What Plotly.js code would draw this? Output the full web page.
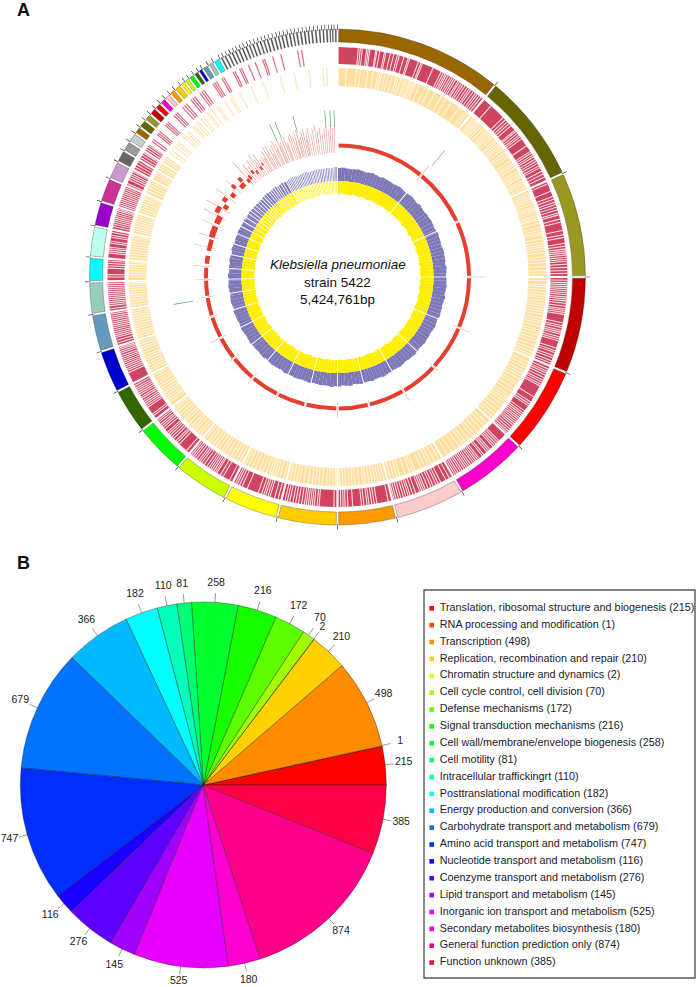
<!DOCTYPE html>
<html><head><meta charset="utf-8">
<script src="https://cdn.plot.ly/plotly-3.0.1.min.js"></script>
<style>html,body{margin:0;padding:0;background:#fff}</style></head>
<body><div id="chart" style="width:697px;height:987px"></div>
<script>
// ---------- Panel A data (degrees clockwise from 12 o'clock) ----------
const contigEnds=[39.4,65.3,90,112.7,133,149.9,166.2,180,194.1,207,220,231.9,242.5,252.5,261.3,268.9,274.6,281.9,287.7,293.4,297.7,300.6,303.1,305.4,
307.2,309.2,311,312.8,314.4,316,317.5,319,320.7,322,323.2,324.6,325.9,327,328.6,330,331.7,
332.6,333.5,334.4,335.3,336.1,337,337.9,338.8,339.6,340.5,341.4,342.3,343.1,344,344.9,345.8,346.6,347.5,348.4,349.3,350.1,351,351.9,352.8,353.6,354.5,355.4,356.3,357.1,358,358.6,359.2,360];
const contigColors=["#996600","#666600","#999922","#c00000","#ff0000","#ff00cc","#ffcccc","#ff9900","#ffcc00","#ffff00","#ccff00","#00ff00","#336600","#0000cc","#6699bb","#99ccbb","#00ffff","#bbffee","#9900cc","#cc3399","#cc99cc","#666666","#999999","#cccccc"];
const thinContigColor="#555555";
const cdsForwardGaps=[5.2,5.7,6.2,7.3,7.7,8.1,9.6,9.9,10.6,11.8,12.2,13.3,14.2,15.1,15.6,16.8,17.9,18.3,20.6,21.3,21.7,24.6,26.8,27.4,27.9,28.3,28.8,29.4,29.9,30.4,30.9,31.6,32.0,32.6,33.1,33.7,34.4,35.0,35.5,36.2,36.9,37.4,38.0,38.6,
41.9,46.1,46.9,47.6,48.2,48.9,50.4,50.8,51.4,52.0,52.5,53.1,55.2,56.9,57.4,58.0,58.5,59.2,59.8,60.4,61.1,61.6,62.6,63.4,64.2,
66.1,68.1,69.5,70.2,71.0,71.6,72.3,73.0,73.8,74.3,75.4,76.2,78.3,79.4,80.1,81.6,82.3,83.0,83.5,84.0,84.5,85.1,85.6,86.1,86.8,87.6,88.4,89.1,
90.8,91.4,91.9,92.4,92.9,93.4,93.9,94.4,95.0,95.5,96.0,96.6,97.3,98.0,98.4,98.9,99.4,101.5,102.2,102.7,103.4,103.9,104.4,105.1,105.6,106.1,108.0,108.7,109.2,110.0,110.6,111.4,112.0,
113.6,114.2,114.7,115.3,116,116.7,117.2,117.8,118.3,121.4,122.9,123.5,124.0,125.6,126.2,126.7,127.2,127.7,128.2,128.7,129.2,129.7,130.2,130.8,131.4,132.0,132.5,
135.4,135.9,136.5,137.0,137.5,138.5,139.0,139.5,140.5,141.0,142.0,142.5,143.0,143.5,144.0,144.6,145.1,145.6,146.1,146.6,147.2,147.7,148.3,148.8,149.3,
150.9,151.9,153.3,154.0,154.6,155.4,156.0,156.8,157.5,158.0,158.5,159.0,160.1,160.9,161.6,162.1,162.7,163.3,164.0,164.6,165.2,165.7,
167.2,170.1,170.8,171.4,172.1,172.6,173.4,174,176.2,177.4,178.1,178.6,179.2,
180.9,184.6,185.1,185.8,186.3,186.8,187.3,187.8,188.3,189,189.8,190.5,191.2,192,192.6,193.2,
195,195.9,197.1,197.6,198.2,198.7,199.3,200.2,203.1,204.5,205.2,205.8,206.3,
208,209.8,210.6,211.6,212,212.5,213,213.5,214,214.6,215.4,216.1,216.6,217.1,217.8,218.4,218.9,219.4,
221,223.4,224.1,224.6,225.4,226,226.6,227.1,227.6,228.6,229.2,229.7,230.2,230.8,231.3,
233,233.5,235.5,236,236.5,237,237.5,238.1,238.6,239.2,239.7,240.2,240.7,241.2,241.8,
245.4,246,246.5,247,247.5,248,248.5,249,249.5,250,250.6,251.1,251.6,252,
253.3,254,254.7,255.2,255.7,256.2,256.7,257.2,257.7,258.2,258.7,259.2,259.7,260.2,260.7,
262,262.8,263.3,263.8,264.3,264.8,265.3,265.8,266.3,266.8,267.3,267.8,268.3,
270,270.6,272.2,272.8,273.4,274,
276,276.5,277,277.5,278.5,279,280,280.5,281.2,
282.7,283.3,283.8,284.3,284.8,285.3,285.8,286.3,286.8,287.2,
288.3,288.8,289.3,289.8,290.3,290.8,291.3,291.8,292.3,292.8,
294,295,295.6,296.1,296.6,297.2,298.5,299.2,299.9,301.3,302,302.6,303.8,304.4,304.9];
const cdsReverseGaps=[2.4,5.2,6.3,8.4,9.9,11.3,11.8,12.3,13.2,14.1,15.2,16.4,17.0,17.8,18.8,19.4,20.1,20.6,21.3,21.9,23.1,24.8,26.0,27.9,29.9,31.3,33.1,35.7,37.6,38.3,
40.5,41.1,41.7,42.3,42.9,43.6,44.5,45.4,46.0,46.6,47.2,48.0,49.0,49.6,50.3,50.9,51.5,52.3,53.3,54.0,54.9,56.1,57.0,57.6,58.4,59.5,60.3,60.9,61.5,62.5,63.1,63.7,64.5,
66.2,66.9,67.5,68.0,68.6,69.3,70.1,70.7,71.3,72,72.9,73.6,74.1,75.0,76.2,77.0,77.7,78.3,79.4,80.4,81.1,81.7,82.4,83.3,84.4,85.2,86,87.1,88.2,89.1,
91,92.1,92.7,93.4,94.3,95.1,95.8,96.6,97.4,98.1,98.9,99.6,100.4,101.4,102.1,102.8,103.7,104.7,105.4,106.2,107.2,108,109.1,110.1,111,111.8,
114,114.9,115.8,116.8,117.6,118.4,119.3,120.4,121.2,122.2,123.3,124.5,125.3,126.1,126.9,127.8,128.9,130,131,131.9,
134.4,135.4,136.6,137.8,138.9,139.8,141,142.2,143.1,144.3,145.6,146.9,148.2,
151,152.2,153.4,154.2,155.3,156.4,158.2,158.9,159.7,161,162.6,163.4,164.3,165.3,
167.2,168,168.8,169.6,170.4,171.3,172.2,172.9,174.1,175.2,176,176.8,177.8,178.6,179.4,
180.6,181.3,182.2,183,184.2,185.2,186.1,187,188.1,189.3,190.6,191.4,192.2,193.2,
195,196.1,197,197.7,198.4,199.1,200,201,202,203.2,204.2,205.2,206.2,
208,208.9,209.8,210.7,211.8,212.8,213.6,214.7,215.6,216.5,217.5,218.3,219.2,
221,221.8,222.8,223.6,224.4,225.4,226.4,227.1,228,228.9,229.8,230.6,231.3,
233.2,233.9,234.6,235.4,236.2,236.9,237.7,238.5,239.4,240.2,241,241.8,
243.4,244.1,244.9,245.7,246.5,247.2,247.9,248.8,249.6,250.3,251.1,251.8,
253.4,254.1,254.8,255.6,256.3,257,257.7,258.4,259.1,259.8,260.5,
262.2,263,263.7,264.4,265.1,265.8,266.5,267.2,267.9,268.4,
270,270.7,271.4,272.1,272.8,273.5,274.1,
275.5,276.3,277,277.8,278.5,279.2,279.9,280.7,281.3,
282.8,283.5,284.2,284.9,285.6,286.3,287,
288.6,289.3,290,290.7,291.4,292.1,292.8,
294.5,295.4,296.2,297,298.7,299.4,300,301.5,302.2,304,304.6];
const cdsForwardMarks=[306.2,306.8,308.3,308.8,309.3,311.4,311.9,312.4,314.6,315.2,315.7,317.6,318.3,318.9,320.4,321,321.6,323.2,323.8,324.4,327.2,327.7,328.2,329.8,330.3,333,333.5,334.8,335.3,337.2,339,341,341.5,343.6,345.7,350,351];
const cdsReverseMarks=[306.5,307.4,308.8,309.6,310.3,312.3,313,313.8,314.4,316,316.6,317.4,318.1,319.3,320,321.4,322,323,324.6,325.2,327.3,329,329.6,332,335.5,339,344,348,352,356,357];
const gcTop=[109,109.5,109,108.5,109,109.5,109,108.5,109,109.5,109,108.5,109.5,109,109,108.5,109,109.5,109,108.5,
109,109.5,109,108.5,109.5,109,108.5,109,109,109.5,109,108.5,109,109.5,109,109,108.5,109,109.5,109,
109,108.5,109.5,109,108.5,109,109,109.5,109,108.5,109.5,109,108.5,109,109,109.5,108.5,109,109.5,109,
108.5,109,109,109.5,109,108.5,109,109.5,109,109,108.5,109,109.5,109,108.5,109,109,110,109,109,
109.5,109,109,109.5,109,108.5,109.5,109,108.5,109.5,109,110,109,109,109.5,109,108.5,109.5,109,108.5,
109,109.5,109,109,109.5,108.5,109,109,109.5,109,108.5,109.5,109,108.5,109,109,109.5,109,108.5,109,
109.5,109,108.5,109,109,109.5,108.5,109,109.5,109,108.5,109,109.5,109,109,109.5,108.5,109,108.5,109.5,
109,108.5,109.5,109,108.5,109,108.5,109.5,109,109,109.5,108.5,109,109.5,109,109,108.5,108.5,109,109.5,
109,109,109.5,108.5,109,108.5,109,109.5,109,108.5,109,109.5,108.5,109,109.5,109,109,109.5,109,110];
const gcInner=[83,83.5,83,82.5,83,83.5,83,82.5,83.5,83,82.5,83,83.5,83,82.5,83,83.5,83,82.5,83.5,
83,83,82.5,83.5,83,82.5,83,83.5,83,82.5,83.5,83,82.5,83,83.5,82.5,83,83.5,83,83,
82.5,83.5,83,82.5,83,83.5,82.5,83,82,83,83.5,82.5,83,83.5,83,82.5,83.5,83,82.5,83.5,
83,82.5,83,83.5,83,82.5,83.5,83,82.5,83,83.5,83,82.5,83,83.5,82.5,83,83.5,83,82.5,
83,83.5,82.5,83,83.5,83,82.5,83.5,83,82.5,83,83.5,83,82.5,83.5,83,82.5,83,83.5,82.5,
83,83.5,83,82.5,83.5,83,82.5,83,83.5,82.5,83,83.5,83,82.5,83,83.5,82.5,83,83.5,83,
82.5,83.5,83,82.5,83,83.5,82.5,83,83.5,83,82.5,83.5,83,83,82.5,83.5,83,82.5,83,83.5,
83,82.5,83.5,83,82.5,83,83.5,82.5,83,83.5,83,82.5,83.5,83,82.5,83,83.5,83,82.5,83.5,
83,83.5,82.5,83,83.5,83,82.5,83.5,83,83.5,83,82.5,83.5,83,84,83.5,83,83.5,84,83.5];
const redBlockAngles=[277.5,284,290,295.6,299.5,302,304.5,308,311,313.9,315,317.3,318.7,321,322.6,325,326.4];
const redBlockWidths=[3.5,5,5,3.6,3,2,2,2,1.5,2.5,1.5,1.4,1,1,0.8,0.8,0.6];
const redBlockBase=[129,129,129,129,134.5,129,134,130,135,129,135,129,130,133,130,131,134];
const redBlockDepth=[4.5,4.5,6,6,5,5,5,5,5,5,5,4,5,4,4,4,3];
const redTickAngles=[39.4,65.3,90,112.7,133,149.9,166,180,194,207,220,232,242.5,252.5,261.3,268.9,274.6,283,287.6,293,297,300.5,306,311];
const redTickTops=[144,138,148,143,137,143,134,141,134,136,139,136,143,136,140,141,145,148,145,148,150,152,150,148];
const redSpikeAngles=[317.6,318.8,319.8,321,322,323,323.8,324.6,325.4,326.6,327.5,328.2,328.8,329.9,330.4,331,332,332.6,333.1,334,334.6,335,336,336.4,336.9,337.8,338.7,339.2,339.6,340.6,341.4,342.2,342.8,343.1,344,344.4,345,345.8,346.6,347.2,347.6,348.4,349.4,350.2,351.2,352,353,353.9,354.8,355.6,356.5,357.2,358,358.8];
const redSpikeTops=[155,143,147,142,148,145,152,144,149,141,143,140,147,150,142,150,145,139,148,151,141,147,150,143,146,150,151,142,144,149,152,147,140,151,153,143,145,150,152,142,148,152,146,151,154,147,150,143,149,152,146,153,149,152];
const greenAngles=[40.3,260.5,336,338,344.5,355.6,357.4,358.8];
const greenBases=[146,146,150,150,150,150,150,150];
const greenTops=[166,166,167,167,167,167,167,167];

// ---------- Panel B data ----------
const cogNames=["Translation, ribosomal structure and biogenesis","RNA processing and modification","Transcription","Replication, recombination and repair","Chromatin structure and dynamics","Cell cycle control, cell division","Defense mechanisms","Signal transduction mechanisms","Cell wall/membrane/envelope biogenesis","Cell motility","Intracellular traffickingrt","Posttranslational modification","Energy production and conversion","Carbohydrate transport and metabolism","Amino acid transport and metabolism","Nucleotide transport and metabolism","Coenzyme transport and metabolism","Lipid transport and metabolism","Inorganic ion transport and metabolism","Secondary metabolites biosynthesis","General function prediction only","Function unknown"];
const cogCounts=[215,1,498,210,2,70,172,216,258,81,110,182,366,679,747,116,276,145,525,180,874,385];
const cogColors=["#FF0000","#FF4600","#FF8B00","#FFD100","#E8FF00","#A2FF00","#5DFF00","#17FF00","#00FF2E","#00FF74","#00FFB9","#00FFFF","#00B9FF","#0074FF","#002EFF","#1700FF","#5D00FF","#A200FF","#E800FF","#FF00D1","#FF008B","#FF0046"];

// ---------- layout geometry ----------
const W=697,H=987,FONT='"Liberation Sans", Arial, sans-serif';
const cx=337.5,cy=277,Rg=256;          // genome plot
const px=203.3,py=785,Rp=183;          // pie
const dx=(c,r)=>[(c-r)/W,(c+r)/W], dy=(c,r)=>[1-(c+r)/H,1-(c-r)/H];
const tracks={contig:[235,248],fwd:[213,230],rev:[191,209],red:[129.5,133.5],gc:96};

function ring(theta,width,base,top,color,extra){
  const n=theta.length, arr=v=>Array.isArray(v)?v:new Array(n).fill(v);
  const B=arr(base),T=arr(top);
  return Object.assign({type:'barpolar',subplot:'polar',theta:theta,width:arr(width),base:B,r:T.map((t,i)=>t-B[i]),
    marker:{color:color,line:{width:0}},hoverinfo:'skip',showlegend:false},extra||{});
}
const starts=contigEnds.map((e,i)=>i?contigEnds[i-1]:0);
const mids=contigEnds.map((e,i)=>(e+starts[i])/2);
const spans=contigEnds.map((e,i)=>e-starts[i]);
const gapOf=s=>Math.min(0.55,s*0.42);
const widths=spans.map(s=>s-gapOf(s));
const colors=contigEnds.map((e,i)=>i<41?contigColors[i%24]:thinContigColor);
const bandN=24, redN=17;

const traces=[];
// GC purple & yellow histograms
const binTheta=gcTop.map((_,i)=>i*2+1);
traces.push(ring(binTheta,2.05,tracks.gc,gcTop,'#7d79b9'));
traces.push(ring(binTheta,2.05,gcInner,tracks.gc,'#ffee00'));
traces.push(ring(contigEnds,spans.map(s=>Math.min(0.5,s*0.6)),78,113,'#ffffff'));
// red contig track
traces.push(ring(redTickAngles,0.24,tracks.red[0]-4,redTickTops,'#f2aaa2'));
traces.push(ring(redSpikeAngles,0.22,124,redSpikeTops,'#e98b81'));
traces.push(ring(mids.slice(0,redN),spans.slice(0,redN).map(s=>s-1.0),tracks.red[0],tracks.red[1],'#e53f30'));
traces.push(ring(redBlockAngles,redBlockWidths,redBlockBase,redBlockBase.map((b,i)=>b+redBlockDepth[i]),'#e53f30'));
// green track
traces.push(ring(greenAngles,0.22,greenBases,greenTops,'#3d9a5c'));
// CDS reverse ring
traces.push(ring(mids.slice(0,bandN),widths.slice(0,bandN),tracks.rev[0],tracks.rev[1],'#ffdf9f'));
traces.push(ring(cdsReverseGaps,0.3,tracks.rev[0]-0.5,tracks.rev[1]+0.5,'#fff6e4'));
traces.push(ring(cdsReverseMarks,0.3,tracks.rev[0],tracks.rev[1],'#ffe2ac'));
// CDS forward ring
traces.push(ring(mids.slice(0,bandN),widths.slice(0,bandN),tracks.fwd[0],tracks.fwd[1],'#cf4461'));
traces.push(ring(cdsForwardGaps,0.27,tracks.fwd[0]-0.5,tracks.fwd[1]+0.5,'#fbe4e8'));
traces.push(ring(cdsForwardMarks,0.32,tracks.fwd[0],tracks.fwd[1],'#dc6f86'));
// contigs ring
traces.push(ring(mids,widths.map((w,i)=>i<41?w:w*0.5),tracks.contig[0],tracks.contig[1],colors,
  {marker:{color:colors,line:{width:0.5,color:'rgba(50,50,50,0.65)'}}}));
traces.push(ring(contigEnds,0.14,247,252.5,'#222222'));

// pie (Plotly's counterclockwise pie ends its first slice at the rotation angle)
const total=cogCounts.reduce((a,b)=>a+b,0);
traces.push({type:'pie',values:cogCounts,labels:cogNames,sort:false,direction:'counterclockwise',rotation:90-cogCounts[0]/total*360,
  textinfo:'none',showlegend:false,hoverinfo:'skip',
  marker:{colors:cogColors,line:{color:'rgba(30,30,30,0.75)',width:0.5}},
  domain:{x:dx(px,Rp),y:dy(py,Rp)}});
// pie tick marks & labels from cumulative counts
let run=0;const sliceAngle=cogCounts.map(v=>{const a=(run+v/2)/total*360;run+=v;return a;});
const tickTheta=[],tickR=[];
sliceAngle.forEach(a=>{tickTheta.push(a,a,null);tickR.push(1,1.05,null);});
const labelR=cogCounts.map((v,i)=>i===4?1.08:i===5?1.11:i===18?1.09:1.105);
traces.push({type:'scatterpolar',subplot:'polar2',mode:'lines',theta:tickTheta,r:tickR,
  line:{color:'#555',width:0.6},hoverinfo:'skip',showlegend:false,cliponaxis:false});
traces.push({type:'scatterpolar',subplot:'polar2',mode:'text',theta:sliceAngle,r:labelR,
  text:cogCounts.map(String),textposition:'middle center',textfont:{family:FONT,size:10.5,color:'#222'},
  hoverinfo:'skip',showlegend:false,cliponaxis:false});
// legend as its own small subplot
const rows=cogNames.map((_,i)=>i);
traces.push({type:'scatter',xaxis:'x',yaxis:'y',mode:'markers',x:rows.map(()=>0),y:rows,
  marker:{symbol:'square',size:4.6,color:cogColors,line:{width:0}},hoverinfo:'skip',showlegend:false,cliponaxis:false});
traces.push({type:'scatter',xaxis:'x',yaxis:'y',mode:'text',x:rows.map(()=>1),y:rows,
  text:cogNames.map((n,i)=>n+' ('+cogCounts[i]+')'),textposition:'middle right',
  textfont:{family:FONT,size:10.8,color:'#1a1a2a'},hoverinfo:'skip',showlegend:false,cliponaxis:false});

const hiddenPolar=(dom,rng,rot,dir)=>({domain:dom,bgcolor:'rgba(0,0,0,0)',
  radialaxis:{visible:false,range:rng},angularaxis:{visible:false,rotation:rot,direction:dir,thetaunit:'degrees'}});
const note=(t,x,y,size,extra)=>Object.assign({text:t,xref:'paper',yref:'paper',x:x/W,y:1-y/H,showarrow:false,xanchor:'center',yanchor:'middle',
  font:{family:FONT,size:size,color:'#111'}},extra||{});
const labelSpan=px/Rp;   // polar2 reaches the page's left edge so the labels stay inside its radial range
const layout={width:W,height:H,margin:{l:0,r:0,t:0,b:0},paper_bgcolor:'#fff',plot_bgcolor:'rgba(0,0,0,0)',showlegend:false,
  polar:hiddenPolar({x:dx(cx,Rg),y:dy(cy,Rg)},[0,Rg],90,'clockwise'),
  polar2:hiddenPolar({x:dx(px,px),y:dy(py,px)},[0,labelSpan],0,'counterclockwise'),
  xaxis:{domain:[431.7/W,439.8/W],range:[0,1],visible:false,fixedrange:true},
  yaxis:{domain:[1-962.6/H,1-608.3/H],range:[21,0],visible:false,fixedrange:true},
  shapes:[{type:'rect',xref:'paper',yref:'paper',x0:424/W,x1:695/W,y0:1-978/H,y1:1-590/H,line:{color:'#555',width:1.4},fillcolor:'rgba(0,0,0,0)'}],
  annotations:[
    note('<b>A</b>',23,10,18),note('<b>B</b>',23,563,18),
    note('<i>Klebsiella pneumoniae</i>',337.5,264,13.5),
    note('strain 5422',337.5,282,13.5),
    note('5,424,761bp',337.5,300,13.5)
  ]};
Plotly.newPlot('chart',traces,layout,{staticPlot:true,displayModeBar:false});
</script></body></html>
